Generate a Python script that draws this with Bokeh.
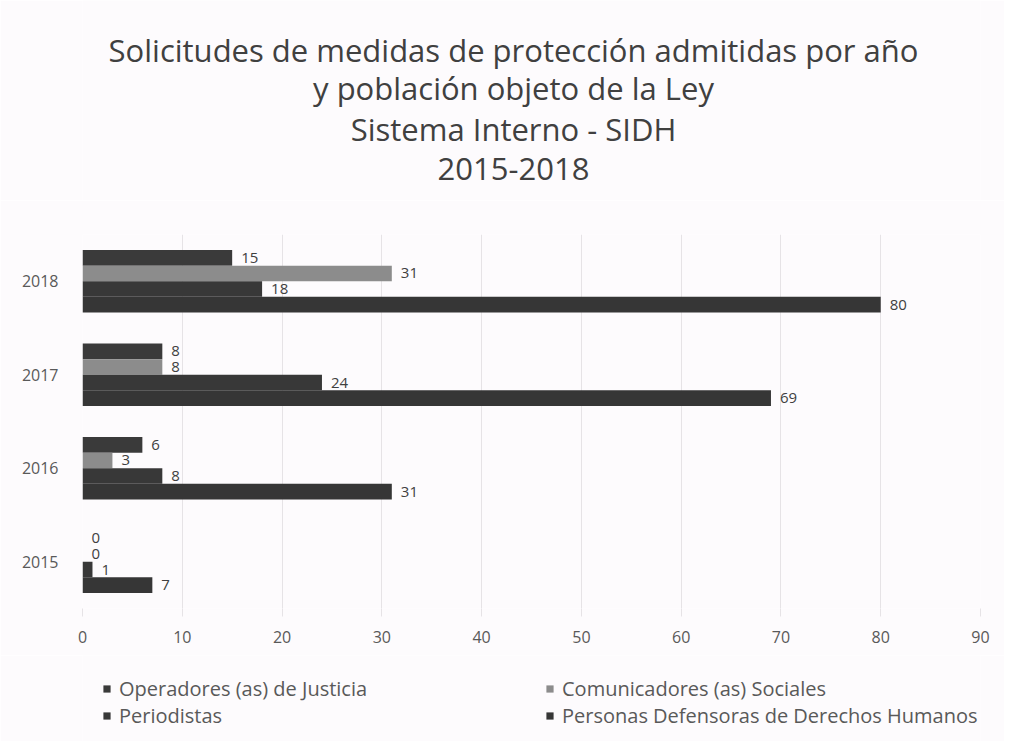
from bokeh.plotting import figure
from bokeh.layouts import column
from bokeh.models import (ColumnDataSource, Legend, LegendItem, FixedTicker, Range1d)
from bokeh.core.properties import value
from bokeh.embed import file_html
from bokeh.resources import INLINE

# ---- data ----
years = ["2015", "2016", "2017", "2018"]
series_names = ["Operadores (as) de Justicia", "Comunicadores (as) Sociales",
                "Periodistas", "Personas Defensoras de Derechos Humanos"]
operadores = [0, 6, 8, 15]
comunicadores = [0, 3, 8, 31]
periodistas = [1, 8, 24, 18]
defensoras = [7, 31, 69, 80]
title_lines = ["Solicitudes de medidas de protección admitidas por año",
               "y población objeto de la Ley",
               "Sistema Interno - SIDH",
               "2015-2018"]
x_ticks = [0, 10, 20, 30, 40, 50, 60, 70, 80, 90]

series_values = [operadores, comunicadores, periodistas, defensoras]
colors = ["#3a3a3a", "#8c8c8c", "#383838", "#363636"]
offsets = [0.25, 0.0833, -0.0833, -0.25]
bar_h = 0.167

FONT = "Open Sans"
TXT = "#595959"
BG = "#fdfbfd"
W = 1004
BL, BR = 82, 24          # shared left / right borders (frames are aligned)

# ---- title block (text placed in pixel space of its own figure) ----
TH = 200
tf = figure(width=W, height=TH, output_backend="svg", toolbar_location=None,
            x_range=Range1d(BL, W - BR), y_range=Range1d(TH, 0),
            x_axis_location=None, y_axis_location=None,
            min_border_left=BL, min_border_right=BR, min_border_top=0,
            min_border_bottom=0,
            background_fill_color=BG, border_fill_color=BG, outline_line_color=None)
tf.grid.visible = False
title_y = [49, 87, 128, 168]
tf.text(x=[513] * len(title_lines), y=title_y, text=title_lines,
        text_align="center", text_baseline="middle", text_font=value(FONT),
        text_font_size="31px", text_color="#404040")

# ---- main chart ----
p = figure(width=W, height=455, output_backend="svg", toolbar_location=None,
           x_range=Range1d(0, 90), y_range=Range1d(-0.5, 3.5),
           min_border_left=BL, min_border_right=BR, min_border_top=34,
           min_border_bottom=47, background_fill_color=BG,
           border_fill_color=BG, outline_line_color=None)

sources = []
for name, vals, col, off in zip(series_names, series_values, colors, offsets):
    src = ColumnDataSource(dict(y=[i + off for i in range(len(years))], x=vals,
                                lab=[str(v) for v in vals]))
    sources.append(src)
    p.hbar(y="y", right="x", left=0, height=bar_h, source=src,
           fill_color=col, line_color=None)
    p.text(x="x", y="y", text="lab", source=src, x_offset=9,
           text_baseline="middle", text_align="left", text_font_size="15px",
           text_color="#404040", text_font=value(FONT))

p.xaxis.ticker = FixedTicker(ticks=x_ticks)
p.xaxis.axis_line_color = None
p.xaxis.major_tick_line_color = "#e6e3e6"
p.xaxis.major_tick_out = 8
p.xaxis.major_tick_in = 0
p.xaxis.minor_tick_line_color = None
p.xaxis.major_label_text_font = FONT
p.xaxis.major_label_text_font_size = "16px"
p.xaxis.major_label_text_color = TXT
p.xaxis.major_label_standoff = 14

p.yaxis.ticker = FixedTicker(ticks=list(range(len(years))))
p.yaxis.major_label_overrides = {i: y for i, y in enumerate(years)}
p.yaxis.axis_line_color = None
p.yaxis.major_tick_line_color = None
p.yaxis.minor_tick_line_color = None
p.yaxis.major_label_text_font = FONT
p.yaxis.major_label_text_font_size = "16px"
p.yaxis.major_label_text_color = TXT
p.yaxis.major_label_standoff = 18

p.xgrid.grid_line_color = "#e6e3e6"
p.xgrid.ticker = FixedTicker(ticks=x_ticks)
p.ygrid.grid_line_color = None

# ---- legend block (its renderers share the data but lie outside its view) ----
LM = 20
lf = figure(width=W, height=86, output_backend="svg", toolbar_location=None,
            x_range=Range1d(1000, 1001), y_range=Range1d(1000, 1001),
            x_axis_location=None, y_axis_location=None,
            min_border_left=BL, min_border_right=BR, min_border_top=0,
            min_border_bottom=0, background_fill_color=BG,
            border_fill_color=BG, outline_line_color=None)
lf.grid.visible = False
items = []
for name, col, src in zip(series_names, colors, sources):
    r = lf.hbar(y="y", right="x", left=0, height=bar_h, source=src,
                fill_color=col, line_color=None)
    items.append(LegendItem(label=name, renderers=[r]))
legend = Legend(items=items, ncols=2, orientation="horizontal", location="top_left",
                glyph_width=9, glyph_height=9, label_standoff=8, label_width=426,
                label_height=22, spacing=0, padding=0, margin=LM,
                border_line_color=None, background_fill_alpha=0,
                label_text_font=FONT, label_text_font_size="20px",
                label_text_color=TXT)
lf.add_layout(legend, "center")

layout = column(tf, p, lf, spacing=0)
open("out.html", "w").write(file_html(layout, INLINE))
